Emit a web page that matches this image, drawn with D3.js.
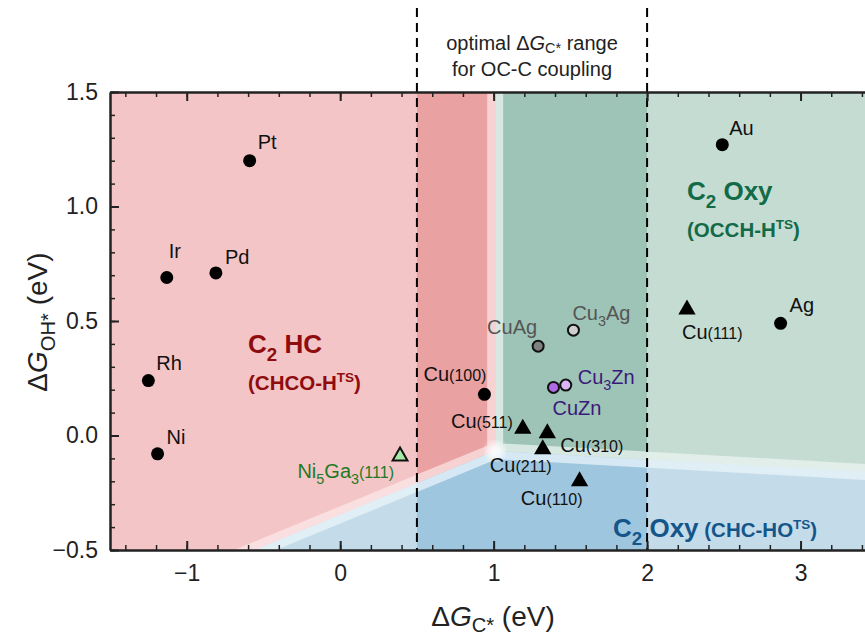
<!DOCTYPE html>
<html>
<head>
<meta charset="utf-8">
<script src="https://cdn.jsdelivr.net/npm/d3@7"></script>
<style>
  body { margin: 0; background: #fff; }
  text { font-family: "Liberation Sans", Arial, sans-serif; }
</style>
</head>
<body>
<script>
// ---- data ----
var pointNames = ["Pt", "Au", "Ir", "Pd", "Rh", "Ni", "Ag",
                  "Cu[(100)]", "CuAg", "Cu_{3}Ag", "CuZn", "Cu_{3}Zn",
                  "Cu[(111)]", "Cu[(511)]", "Cu[(310)]", "Cu[(211)]", "Cu[(110)]",
                  "Ni_{5}Ga_{3}[(111)]"];
var pointGroup = ["metal", "metal", "metal", "metal", "metal", "metal", "metal",
                  "metal", "CuAg", "Cu3Ag", "CuZn", "Cu3Zn",
                  "facet", "facet", "facet", "facet", "facet",
                  "NiGa"];
var dGC  = [-0.59, 2.49, -1.13, -0.81, -1.25, -1.19, 2.87,
            0.94, 1.29, 1.52, 1.39, 1.47,
            2.26, 1.19, 1.35, 1.32, 1.56,
            0.39];
var dGOH = [1.20, 1.27, 0.69, 0.71, 0.24, -0.08, 0.49,
            0.18, 0.39, 0.46, 0.21, 0.22,
            0.55, 0.03, 0.01, -0.06, -0.20,
            -0.09];

// region boundaries (eV)
var junction = [1.01, -0.068];
var hcEdgeBottom = [-0.555, -0.5];   // C2 HC / CHC-HO boundary at the bottom axis
var oxyEdgeRight = [3.42, -0.159];   // OCCH-H / CHC-HO boundary at the right edge
var optimalRange = [0.5, 2.0];

var xMajor = [-1, 0, 1, 2, 3];
var xMinor = d3.range(-7, 18).map(function(i) { return i * 0.2; });
var yMajor = [-0.5, 0, 0.5, 1.0, 1.5];
var yMinor = d3.range(-5, 16).map(function(i) { return i * 0.1; });

// ---- layout / style ----
var w = 865, h = 639;
var x = d3.scaleLinear().domain([-1.5, 3.42]).range([110, 865]);
var y = d3.scaleLinear().domain([-0.5, 1.5]).range([550, 92]);

var groupStyle = {
  metal: {shape: "circle", fill: "#000", stroke: "none", label: "#111"},
  CuAg:  {shape: "circle", fill: "#808080", stroke: "#111", label: "#555"},
  Cu3Ag: {shape: "circle", fill: "#cfcfcf", stroke: "#111", label: "#555"},
  CuZn:  {shape: "circle", fill: "#b06ae6", stroke: "#111", label: "#3a1a78"},
  Cu3Zn: {shape: "circle", fill: "#dab5f5", stroke: "#111", label: "#3a1a78"},
  facet: {shape: "tri", fill: "#000", stroke: "none", label: "#111"},
  NiGa:  {shape: "tri", fill: "#a6eaa6", stroke: "#111", label: "#1f7a1f"}
};
// label offsets [dx, dy, anchor] relative to marker
var labelPos = [[8, -12, "start"], [7, -10, "start"], [2, -19, "start"], [9, -9, "start"],
                [8, -11, "start"], [9, -10, "start"], [9, -11, "start"],
                [2, -13, "end"], [-1, -12, "end"], [-1, -10, "start"], [-1, 28, "start"], [12, -1, "start"],
                [-5, 29, "start"], [-10, -1, "end"], [13, 19, "start"], [-22, 23, "middle"], [3, 24, "end"],
                [-6, 22, "end"]];

var svg = d3.select("body").append("svg")
  .attr("width", w)
  .attr("height", h);

var defs = svg.append("defs");
defs.append("clipPath").attr("id", "plotClip")
  .append("rect").attr("x", 110).attr("y", 92).attr("width", 755).attr("height", 458);
defs.append("clipPath").attr("id", "stripClip")
  .append("rect").attr("x", x(optimalRange[0])).attr("y", 92)
  .attr("width", x(optimalRange[1]) - x(optimalRange[0])).attr("height", 458);
defs.append("filter").attr("id", "blur")
  .append("feGaussianBlur").attr("stdDeviation", 3);

// point on line p-q at a given y / x
function atY(p, q, yv) {
  return [p[0] + (q[0] - p[0]) * (yv - p[1]) / (q[1] - p[1]), yv];
}
function atX(p, q, xv) {
  return [xv, p[1] + (q[1] - p[1]) * (xv - p[0]) / (q[0] - p[0])];
}
var lowLeft = atY(junction, hcEdgeBottom, -1);
var farRight = atX(junction, oxyEdgeRight, 4);

var regions = [
  {id: "hc",  pts: [[-3, 2], [junction[0], 2], junction, lowLeft, [-3, -1]],
   light: "#f4c5c6", lightRim: "#f9dfe0", dark: "#eaa1a2", darkRim: "#f6d2d3"},
  {id: "oxy", pts: [[junction[0], 2], [4, 2], farRight, junction],
   light: "#c5dcd3", lightRim: "#e2eeea", dark: "#9ec4b7", darkRim: "#d7e8e2"},
  {id: "cho", pts: [junction, farRight, [4, -1], lowLeft],
   light: "#c4dcea", lightRim: "#e0eef6", dark: "#9fc6df", darkRim: "#d5e8f3"}
];

var line = d3.line().x(function(d) { return x(d[0]); }).y(function(d) { return y(d[1]); });

regions.forEach(function(r) {
  defs.append("clipPath").attr("id", "clip-" + r.id)
    .append("path").attr("d", line(r.pts) + "Z");
});

var plot = svg.append("g").attr("clip-path", "url(#plotClip)");

function drawRegions(parent, key) {
  regions.forEach(function(r) {
    var g = parent.append("g").attr("clip-path", "url(#clip-" + r.id + ")");
    g.append("path")
      .attr("d", line(r.pts) + "Z")
      .attr("fill", r[key])
      .attr("stroke", r[key + "Rim"])
      .attr("stroke-width", 16)
      .attr("stroke-linejoin", "round");
  });
}
drawRegions(plot, "light");
drawRegions(plot.append("g").attr("clip-path", "url(#stripClip)"), "dark");

plot.append("circle")
  .attr("cx", x(junction[0])).attr("cy", y(junction[1]))
  .attr("r", 9).attr("fill", "#fff").attr("opacity", 0.85)
  .attr("filter", "url(#blur)");

// rich text: _{sub} ^{sup} [small] ~{italic}
function rich(sel, str, size, subShift) {
  var re = /(_\{[^}]*\}|\^\{[^}]*\}|\[[^\]]*\]|~\{[^}]*\})/;
  var parts = str.split(re).filter(function(s) { return s.length; });
  var shift = 0;
  subShift = subShift || 0.3;
  parts.forEach(function(p) {
    var t = p, fs = size, dv = 0, italic = false;
    if (p.indexOf("_{") === 0) { t = p.slice(2, -1); fs = size * 0.72; dv = size * subShift; }
    else if (p.indexOf("^{") === 0) { t = p.slice(2, -1); fs = size * 0.66; dv = -size * 0.4; }
    else if (p[0] === "[") { t = p.slice(1, -1); fs = size * 0.8; }
    else if (p.indexOf("~{") === 0) { t = p.slice(2, -1); italic = true; }
    var ts = sel.append("tspan").text(t).attr("font-size", fs).attr("dy", dv - shift);
    if (italic) ts.attr("font-style", "italic");
    shift = dv;
  });
  return sel;
}

// dashed lines for optimal range
svg.selectAll(".range-line")
  .data(optimalRange)
  .enter()
  .append("line")
    .attr("class", "range-line")
    .attr("x1", function(d) { return x(d); })
    .attr("x2", function(d) { return x(d); })
    .attr("y1", 8).attr("y2", 550)
    .attr("stroke", "#000")
    .attr("stroke-width", 2)
    .attr("stroke-dasharray", "9,6");

rich(svg.append("text").attr("x", d3.mean(optimalRange.map(x))).attr("y", 50)
  .attr("text-anchor", "middle").attr("fill", "#222"), "optimal \u0394~{G}_{C*} range", 20, 0.15);
svg.append("text").attr("x", d3.mean(optimalRange.map(x))).attr("y", 76)
  .attr("text-anchor", "middle").attr("fill", "#222").attr("font-size", 20)
  .text("for OC-C coupling");

// axes
function styleAxis(g, width) {
  g.selectAll(".tick line").attr("stroke", "#222").attr("stroke-width", width);
  g.select(".domain").attr("stroke", "#222").attr("stroke-width", 2);
  g.selectAll("text").attr("font-size", 23).attr("fill", "#222")
    .attr("font-family", "'Liberation Sans', Arial, sans-serif");
}
var gx = svg.append("g").attr("transform", "translate(0,550)");
gx.call(d3.axisBottom(x).tickValues(xMinor).tickSize(-5).tickSizeOuter(0).tickFormat(""));
styleAxis(gx, 1.5);
var gx2 = svg.append("g").attr("transform", "translate(0,550)");
gx2.call(d3.axisBottom(x).tickValues(xMajor).tickSize(-9).tickSizeOuter(0).tickPadding(15)
  .tickFormat(d3.format("d")));
styleAxis(gx2, 2);

var gt = svg.append("g").attr("transform", "translate(0,92)");
gt.call(d3.axisTop(x).tickValues(xMinor).tickSize(-5).tickSizeOuter(0).tickFormat(""));
styleAxis(gt, 1.5);
var gt2 = svg.append("g").attr("transform", "translate(0,92)");
gt2.call(d3.axisTop(x).tickValues(xMajor).tickSize(-9).tickSizeOuter(0).tickFormat(""));
styleAxis(gt2, 2);

var gy = svg.append("g").attr("transform", "translate(110,0)");
gy.call(d3.axisLeft(y).tickValues(yMinor).tickSize(-5).tickSizeOuter(0).tickFormat(""));
styleAxis(gy, 1.5);
var gy2 = svg.append("g").attr("transform", "translate(110,0)");
gy2.call(d3.axisLeft(y).tickValues(yMajor).tickSize(-9).tickSizeOuter(0).tickPadding(12)
  .tickFormat(d3.format(".1f")));
styleAxis(gy2, 2);

rich(svg.append("text").attr("x", 493).attr("y", 626).attr("text-anchor", "middle").attr("fill", "#222"),
  "\u0394~{G}_{C*} (eV)", 28, 0.2);
rich(svg.append("text").attr("transform", "translate(47,322) rotate(-90)")
  .attr("text-anchor", "middle").attr("fill", "#222"),
  "\u0394~{G}_{OH*} (eV)", 28);

// region labels
function regionLabel(xp, yp, str, size, color) {
  rich(svg.append("text").attr("x", xp).attr("y", yp).attr("fill", color)
    .attr("font-weight", "bold"), str, size);
}
regionLabel(248, 353, "C_{2} HC", 26, "#8e0c0e");
regionLabel(248, 390, "(CHCO-H^{TS})", 20.5, "#8e0c0e");
regionLabel(687, 200, "C_{2} Oxy", 26, "#126a47");
regionLabel(687, 237, "(OCCH-H^{TS})", 20.5, "#126a47");
var cho = svg.append("text").attr("x", 613).attr("y", 537).attr("fill", "#15568a")
  .attr("font-weight", "bold");
rich(cho, "C_{2} Oxy", 26);
rich(cho, " (CHC-HO^{TS})", 20.5);

// points
var idx = d3.range(pointNames.length);
var tri = d3.symbol().type(d3.symbolTriangle);

svg.selectAll(".pt")
  .data(idx)
  .enter()
  .append("path")
    .attr("class", "pt")
    .attr("transform", function(i) { return "translate(" + x(dGC[i]) + "," + y(dGOH[i]) + ")"; })
    .attr("d", function(i) {
      var s = groupStyle[pointGroup[i]];
      if (s.shape === "tri") return tri.size(s.stroke === "none" ? 130 : 95)();
      var r = s.stroke === "none" ? 6.5 : 5.5;
      return d3.arc()({innerRadius: 0, outerRadius: r, startAngle: 0, endAngle: 2 * Math.PI});
    })
    .attr("fill", function(i) { return groupStyle[pointGroup[i]].fill; })
    .attr("stroke", function(i) { return groupStyle[pointGroup[i]].stroke; })
    .attr("stroke-width", 2);

idx.forEach(function(i) {
  var lp = labelPos[i];
  var t = svg.append("text")
    .attr("x", x(dGC[i]) + lp[0])
    .attr("y", y(dGOH[i]) + lp[1])
    .attr("text-anchor", lp[2])
    .attr("fill", groupStyle[pointGroup[i]].label);
  rich(t, pointNames[i], 20);
});
</script>
</body>
</html>
